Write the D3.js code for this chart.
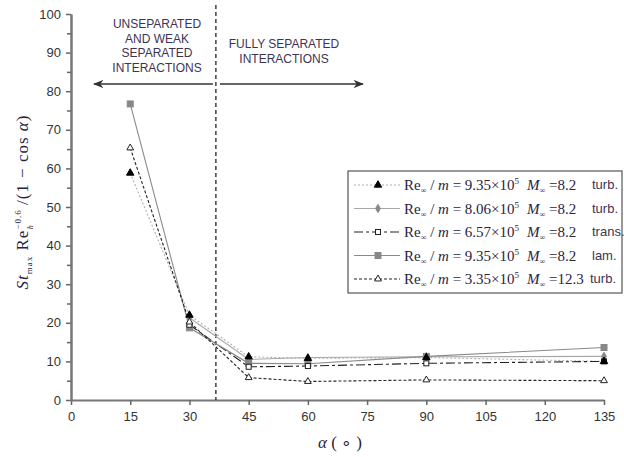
<!doctype html>
<html>
<head>
  <meta charset="utf-8">
  <title>Peak heating vs cone angle</title>
  <script src="https://d3js.org/d3.v7.min.js"></script>
  <style>
    body { margin: 0; background: #fff; }
    .tick text { font-family: Arial, "Liberation Sans", sans-serif; font-size: 13px; fill: #333; }
  </style>
</head>
<body>
  <div id="chart"></div>
  <script>
    // cone angle alpha (deg)
    var alphas = [15, 30, 45, 60, 90, 135];

    // series values, null = no point
    var s1 = [58.8, 22.0, 11.2, 10.8, 11.0, 10.0];   // 9.35e5 M8.2 turb
    var s2 = [null, 21.3, 10.5, 11.0, 11.2, 11.3];   // 8.06e5 M8.2 turb
    var s3 = [null, 19.5, 8.6, 8.8, 9.5, 10.0];      // 6.57e5 M8.2 trans
    var s4 = [76.7, 18.7, 9.5, 9.4, 11.3, 13.6];     // 9.35e5 M8.2 lam
    var s5 = [65.3, 20.2, 5.8, 4.8, 5.2, 5.0];       // 3.35e5 M12.3 turb

    var reVals = ["9.35", "8.06", "6.57", "9.35", "3.35"];
    var machVals = ["8.2", "8.2", "8.2", "8.2", "12.3"];
    var regimes = ["turb.", "turb.", "trans.", "lam.", "turb."];

    var xTicks = [0, 15, 30, 45, 60, 75, 90, 105, 120, 135];
    var yTicks = [0, 10, 20, 30, 40, 50, 60, 70, 80, 90, 100];
    var yMinor = [5, 15, 25, 35, 45, 55, 65, 75, 85, 95];
    var boundary = 36.7;

    var styles = [
      { stroke: "#b0b0b0", dash: "2,2", width: 1.1, marker: "tri", fill: "#000", mstroke: "#000" },
      { stroke: "#a8a8a8", dash: null, width: 1.1, marker: "diamond", fill: "#888", mstroke: "#888" },
      { stroke: "#222", dash: "9,3,3,3", width: 1.1, marker: "square", fill: "#fff", mstroke: "#222" },
      { stroke: "#8a8a8a", dash: null, width: 1.1, marker: "square", fill: "#888", mstroke: "#888" },
      { stroke: "#222", dash: "3,2", width: 1.1, marker: "tri", fill: "#fff", mstroke: "#222" }
    ];
    var series = [s1, s2, s3, s4, s5];

    var W = 624, H = 457;
    var svg = d3.select("#chart").append("svg")
      .attr("width", W).attr("height", H);

    var x = d3.scaleLinear().domain([0, 135]).range([71, 604]);
    var y = d3.scaleLinear().domain([0, 100]).range([400, 14]);

    // axes
    svg.append("g")
      .attr("transform", "translate(0," + y(0) + ")")
      .call(d3.axisBottom(x).tickValues(xTicks).tickSize(5).tickPadding(7).tickSizeOuter(0));
    svg.append("g")
      .attr("transform", "translate(" + x(0) + ",0)")
      .call(d3.axisLeft(y).tickValues(yTicks).tickSize(5).tickPadding(5).tickSizeOuter(0));
    svg.append("g")
      .attr("transform", "translate(" + x(0) + ",0)")
      .call(d3.axisLeft(y).tickValues(yMinor).tickSize(4).tickFormat("").tickSizeOuter(0));
    svg.selectAll(".domain").attr("stroke", "#777").attr("stroke-width", 2);
    svg.selectAll(".tick line").attr("stroke", "#666").attr("stroke-width", 1.5);

    // boundary line
    svg.append("line")
      .attr("x1", x(boundary)).attr("x2", x(boundary))
      .attr("y1", 5).attr("y2", y(0))
      .attr("stroke", "#111").attr("stroke-width", 1.2)
      .attr("stroke-dasharray", "4,3");

    // arrows
    var defs = svg.append("defs");
    defs.append("marker").attr("id", "ah")
      .attr("viewBox", "0 0 10 10").attr("refX", 9).attr("refY", 5)
      .attr("markerWidth", 7).attr("markerHeight", 7).attr("orient", "auto-start-reverse")
      .append("path").attr("d", "M0,1 L10,5 L0,9 L3,5 Z").attr("fill", "#333");

    var arrowY = 84;
    svg.append("line").attr("x1", 94).attr("x2", x(boundary) - 3)
      .attr("y1", arrowY).attr("y2", arrowY)
      .attr("stroke", "#333").attr("stroke-width", 1.5)
      .attr("marker-start", "url(#ah)");
    svg.append("line").attr("x1", x(boundary) + 4).attr("x2", 363)
      .attr("y1", arrowY).attr("y2", arrowY)
      .attr("stroke", "#333").attr("stroke-width", 1.5)
      .attr("marker-end", "url(#ah)");

    var noteFont = "Arial, 'Liberation Sans', sans-serif";
    var leftNote = ["UNSEPARATED", "AND WEAK", "SEPARATED", "INTERACTIONS"];
    leftNote.forEach(function (t, i) {
      svg.append("text").attr("x", 157).attr("y", 28 + i * 14.5)
        .attr("text-anchor", "middle").attr("font-family", noteFont)
        .attr("font-size", 12).attr("fill", "#3d3455").text(t);
    });
    var rightNote = ["FULLY SEPARATED", "INTERACTIONS"];
    rightNote.forEach(function (t, i) {
      svg.append("text").attr("x", 284).attr("y", 48 + i * 14.5)
        .attr("text-anchor", "middle").attr("font-family", noteFont)
        .attr("font-size", 12).attr("fill", "#3d3455").text(t);
    });

    // marker drawing
    function drawMarker(g, type, cx, cy, st) {
      if (type === "tri") {
        g.append("path").attr("d", d3.symbol().type(d3.symbolTriangle).size(st.fill === "#fff" ? 20 : 24)())
          .attr("transform", "translate(" + cx + "," + cy + ")")
          .attr("fill", st.fill).attr("stroke", st.mstroke).attr("stroke-width", 1);
      } else if (type === "diamond") {
        g.append("path").attr("d", d3.symbol().type(d3.symbolDiamond).size(20)())
          .attr("transform", "translate(" + cx + "," + cy + ")")
          .attr("fill", st.fill).attr("stroke", st.mstroke).attr("stroke-width", 1);
      } else {
        var s = st.fill === "#fff" ? 5 : 6;
        g.append("rect").attr("x", cx - s / 2).attr("y", cy - s / 2)
          .attr("width", s).attr("height", s)
          .attr("fill", st.fill).attr("stroke", st.mstroke).attr("stroke-width", 1);
      }
    }

    var line = d3.line()
      .defined(function (d) { return d.v !== null; })
      .x(function (d) { return x(d.a); })
      .y(function (d) { return y(d.v); });

    series.forEach(function (vals, k) {
      var st = styles[k];
      var pts = alphas.map(function (a, i) { return { a: a, v: vals[i] }; });
      svg.append("path").datum(pts)
        .attr("d", line).attr("fill", "none")
        .attr("stroke", st.stroke).attr("stroke-width", st.width)
        .attr("stroke-dasharray", st.dash);
    });
    // markers on top
    [3, 1, 2, 4, 0].forEach(function (k) {
      var st = styles[k];
      var g = svg.append("g");
      alphas.forEach(function (a, i) {
        if (series[k][i] !== null) drawMarker(g, st.marker, x(a), y(series[k][i]), st);
      });
    });

    // legend
    var lg = svg.append("g");
    lg.append("rect").attr("x", 348).attr("y", 171).attr("width", 274).attr("height", 122)
      .attr("fill", "#fff").attr("stroke", "#555").attr("stroke-width", 1.2);
    var serif = "'Liberation Serif', 'Times New Roman', serif";
    reVals.forEach(function (re, k) {
      var st = styles[k];
      var ry = 185 + k * 23.5;
      lg.append("line").attr("x1", 354).attr("x2", 400).attr("y1", ry).attr("y2", ry)
        .attr("stroke", st.stroke).attr("stroke-width", st.width)
        .attr("stroke-dasharray", st.dash);
      drawMarker(lg, st.marker, 378, ry, st);
      var t = lg.append("text").attr("x", 404).attr("y", ry + 5)
        .attr("font-family", serif).attr("font-size", 15).attr("fill", "#2a2440");
      t.append("tspan").text("Re");
      t.append("tspan").attr("font-size", 8).attr("dy", 3).text("∞");
      t.append("tspan").attr("dy", -3).text(" / ");
      t.append("tspan").attr("font-style", "italic").text("m");
      t.append("tspan").text(" = " + re + "×10");
      t.append("tspan").attr("font-size", 9).attr("dy", -6).text("5");
      var t2 = lg.append("text").attr("x", 527).attr("y", ry + 5)
        .attr("font-family", serif).attr("font-size", 15).attr("fill", "#2a2440");
      t2.append("tspan").attr("font-style", "italic").text("M");
      t2.append("tspan").attr("font-size", 8).attr("dy", 3).text("∞");
      t2.append("tspan").attr("dy", -3).text(" =" + machVals[k]);
      lg.append("text").attr("x", k === 4 ? 590 : 592).attr("y", ry + 4)
        .attr("font-family", noteFont).attr("font-size", 13).attr("fill", "#3d3455")
        .text(regimes[k]);
    });

    // axis titles
    var xt = svg.append("text").attr("x", 340).attr("y", 448)
      .attr("text-anchor", "middle").attr("font-family", serif)
      .attr("font-size", 17).attr("fill", "#2a2440");
    xt.append("tspan").attr("font-style", "italic").text("α");
    xt.append("tspan").text("  ( ∘ )");

    var yt = svg.append("text")
      .attr("transform", "translate(28,202) rotate(-90)")
      .attr("text-anchor", "middle").attr("font-family", serif)
      .attr("font-size", 17).attr("letter-spacing", 1).attr("fill", "#2a2440");
    yt.append("tspan").attr("font-style", "italic").text("St");
    yt.append("tspan").attr("font-size", 9).attr("dy", 4).text("max");
    yt.append("tspan").attr("dy", -4).text(" Re");
    yt.append("tspan").attr("font-size", 9).attr("dy", -7).text("−0.6");
    yt.append("tspan").attr("font-size", 8).attr("dx", -20).attr("dy", 12).attr("font-style", "italic").text("h");
    yt.append("tspan").attr("dx", 14).attr("dy", -5).text(" /(1 − cos ");
    yt.append("tspan").attr("font-style", "italic").text("α");
    yt.append("tspan").text(")");
  </script>
</body>
</html>
